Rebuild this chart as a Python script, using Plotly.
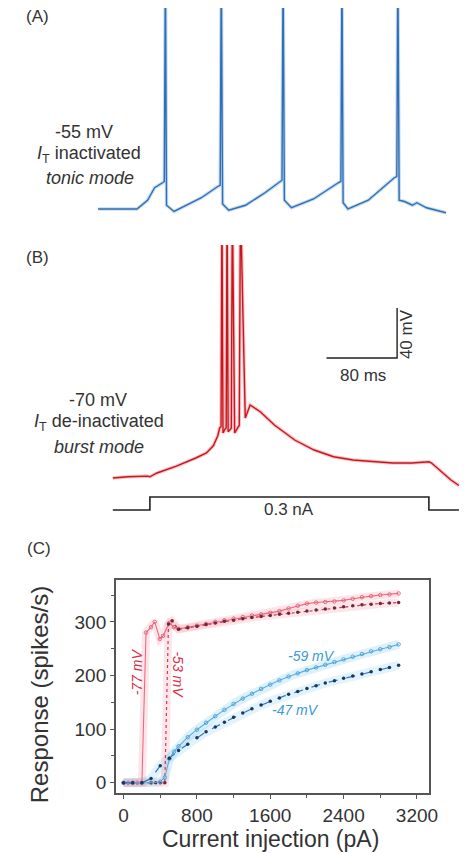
import plotly.graph_objects as go

W, H = 474, 853

# ---------------- Panel A data (tonic mode, ms / mV) ----------------
a_time = [0, 44, 56, 64, 73, 75.0, 76.2, 77.5, 86, 100, 117, 135.5, 138.3, 139.5, 141, 148, 167, 189,
          205.5, 208.3, 209.5, 211, 219, 244, 272, 275.0, 276.2, 277.5, 283, 306, 335.5, 338.3, 339.5,
          341, 347, 356, 361, 372, 383, 394]
a_volt = [-55, -55, -48, -38, -34, -33, 140, -52, -57, -52, -46, -37, -36, 140, -51, -56, -52, -42,
          -33, -32, 140, -48, -54, -47, -34, -33, 140, -50, -55, -48, -30, -29, 140,
          -48, -49, -52, -50, -54, -56, -58]

# ---------------- Panel B data (burst mode, ms / mV) ----------------
b_time = [0, 17, 39, 42, 50, 72, 94, 106, 114, 119, 121,
          122.6, 123.6, 124.8, 127, 128.4, 129.4, 130.6, 133.2, 134.2, 135.4, 138, 142.2, 143.2, 144.6,
          150, 155.5, 167, 183, 206, 228, 250, 272, 294, 317, 339, 356, 358, 361, 372, 383, 392]
b_volt = [-70, -69, -68.5, -69, -66, -60.5, -54, -50, -44, -36, -30,
          -29, 150, -34, -31, -30, 150, -33, -31, -30, 150, -34, -29, -28, 150,
          -22, -11.6, -17, -27.6, -39.6, -47.6, -53, -55.6, -57, -58, -58, -57.5, -57, -58, -65, -71.6, -76]

# current step (nA)
step_time = [0, 42, 42, 358, 358, 392]
step_amp = [0, 0, 0.3, 0.3, 0, 0]

# scale bar (80 ms, 40 mV)
bar_time = [242, 322, 322]
bar_volt = [26, 26, 66]

# ---------------- Panel C data (pA / spikes per s) ----------------
red77_x = [0, 50, 100, 150, 200, 245, 300, 340, 395, 430, 500, 550, 600, 700, 800, 900, 1000, 1100,
           1200, 1300, 1400, 1500, 1600, 1700, 1800, 1900, 2000, 2100, 2200, 2300, 2400, 2500, 2600,
           2700, 2800, 2900, 3000]
red77_y = [0, 0, 0, 0, 0, 280, 290, 300, 268, 274, 298, 290, 287, 290, 293, 296, 300, 303,
           306, 309, 312, 314, 317, 320, 325, 330, 334, 336, 337, 338, 340, 343, 346,
           348, 350, 351, 353]

red53_x = [0, 100, 200, 300, 350, 400, 450, 490, 530, 600, 700, 800, 900, 1000, 1100, 1200, 1300,
           1400, 1500, 1600, 1700, 1800, 1900, 2000, 2100, 2200, 2300, 2400, 2500, 2600, 2700, 2800,
           2900, 3000]
red53_y = [0, 0, 0, 0, 0, 0, 0, 296, 302, 286, 289, 292, 295, 298, 301, 303, 306,
           308, 310, 312, 314, 316, 318, 320, 322, 324, 326, 328, 330, 332, 333, 334,
           335, 336]

blue59_x = [0, 100, 200, 300, 400, 450, 500, 550, 600, 700, 800, 900, 1000, 1100, 1200, 1300, 1400,
            1500, 1600, 1700, 1800, 1900, 2000, 2100, 2200, 2300, 2400, 2500, 2600, 2700, 2800, 2900,
            3000]
blue59_y = [0, 0, 0, 0, 2, 10, 45, 58, 68, 85, 99, 112, 124, 136, 147, 157, 166,
            175, 183, 191, 198, 204, 210, 215, 220, 225, 230, 235, 240, 245, 249, 253,
            258]

blue47_x = [0, 100, 200, 300, 400, 500, 600, 700, 800, 900, 1000, 1100, 1200, 1300, 1400, 1500,
            1600, 1700, 1800, 1900, 2000, 2100, 2200, 2300, 2400, 2500, 2600, 2700, 2800, 2900, 3000]
blue47_y = [0, 0, 0, 8, 32, 46, 60, 72, 84, 95, 104, 113, 122, 130, 138, 145,
            152, 158, 165, 170, 176, 181, 186, 190, 195, 199, 203, 207, 211, 215, 219]

x_ticks = [0, 800, 1600, 2400, 3200]
y_ticks = [0, 100, 200, 300]

# ---------------- geometry helpers ----------------
PX_PER_MS = 0.9      # 80 ms = 72 px
PX_PER_MV = 1.25     # 40 mV = 50 px


def px(x):
    return x / W


def py(y):
    return 1 - y / H


def t_range(x0_px, t0):
    return [t0 - x0_px / PX_PER_MS, t0 + (W - x0_px) / PX_PER_MS]


def v_range(top_px, bot_px, a_px, v_a):
    return [v_a - (bot_px - a_px) / PX_PER_MV, v_a + (a_px - top_px) / PX_PER_MV]


FONT = "Liberation Sans, Arial, sans-serif"
TXT = "#333333"

fig = go.Figure()

# Panel A
fig.add_trace(go.Scatter(x=a_time, y=a_volt, mode="lines", xaxis="x", yaxis="y",
                         line=dict(color="rgba(90,150,215,0.35)", width=3.5), hoverinfo="skip"))
fig.add_trace(go.Scatter(x=a_time, y=a_volt, mode="lines", xaxis="x", yaxis="y",
                         line=dict(color="#2f6fb3", width=1.4)))

# Panel B
fig.add_trace(go.Scatter(x=b_time, y=b_volt, mode="lines", xaxis="x2", yaxis="y2",
                         line=dict(color="rgba(240,80,90,0.35)", width=3.5), hoverinfo="skip"))
fig.add_trace(go.Scatter(x=b_time, y=b_volt, mode="lines", xaxis="x2", yaxis="y2",
                         line=dict(color="#c8161e", width=1.4)))
fig.add_trace(go.Scatter(x=bar_time, y=bar_volt, mode="lines", xaxis="x2", yaxis="y2",
                         line=dict(color="#222222", width=1.4)))
fig.add_trace(go.Scatter(x=step_time, y=step_amp, mode="lines", xaxis="x2", yaxis="y3",
                         line=dict(color="#222222", width=1.6)))

# Panel C
halo = dict(mode="lines", xaxis="x4", yaxis="y4", hoverinfo="skip")
fig.add_trace(go.Scatter(x=blue59_x, y=blue59_y, line=dict(color="rgba(120,200,240,0.25)", width=9), **halo))
fig.add_trace(go.Scatter(x=blue47_x, y=blue47_y, line=dict(color="rgba(120,200,240,0.22)", width=9), **halo))
fig.add_trace(go.Scatter(x=red77_x, y=red77_y, line=dict(color="rgba(245,140,160,0.22)", width=8), **halo))
fig.add_trace(go.Scatter(x=red53_x, y=red53_y, line=dict(color="rgba(245,140,160,0.22)", width=8), **halo))

fig.add_trace(go.Scatter(x=red77_x, y=red77_y, mode="lines+markers", xaxis="x4", yaxis="y4",
                         line=dict(color="#ee6a7c", width=1.1),
                         marker=dict(symbol="circle-open", size=3.5, color="#e06078", line=dict(width=0.9))))
fig.add_trace(go.Scatter(x=red53_x, y=red53_y, mode="lines+markers", xaxis="x4", yaxis="y4",
                         line=dict(color="#c83a55", width=1.2, dash="dot"),
                         marker=dict(symbol="circle", size=3.5, color="#6a2a3a")))
fig.add_trace(go.Scatter(x=blue59_x, y=blue59_y, mode="lines+markers", xaxis="x4", yaxis="y4",
                         line=dict(color="#5aaee0", width=1.1),
                         marker=dict(symbol="circle-open", size=3.5, color="#4a9cd6", line=dict(width=0.9))))
fig.add_trace(go.Scatter(x=blue47_x, y=blue47_y, mode="lines+markers", xaxis="x4", yaxis="y4",
                         line=dict(color="#3a78b8", width=1.2, dash="dash"),
                         marker=dict(symbol="circle", size=3.5, color="#1e3560")))

hidden = dict(visible=False, showgrid=False, zeroline=False, fixedrange=True)
TICKFONT = dict(size=19, color=TXT, family=FONT)

fig.update_layout(
    width=W, height=H, autosize=False,
    margin=dict(l=0, r=0, t=0, b=0),
    paper_bgcolor="white", plot_bgcolor="rgba(0,0,0,0)",
    showlegend=False,
    font=dict(family=FONT, color=TXT),
    xaxis=dict(domain=[0, 1], range=t_range(100, 0), anchor="y", **hidden),
    yaxis=dict(domain=[py(232), py(8)], range=v_range(8, 232, 209, -55), anchor="x", **hidden),
    xaxis2=dict(domain=[0, 1], range=t_range(115, 0), anchor="y2", **hidden),
    yaxis2=dict(domain=[py(490), py(245)], range=v_range(245, 490, 478, -70), anchor="x2", **hidden),
    yaxis3=dict(domain=[py(525), py(485)], range=[-15 / 43.33, 0.3 + 12 / 43.33], anchor="x2", **hidden),
    xaxis4=dict(domain=[px(118), px(437)], range=[-85, 3328], anchor="y4",
                tickvals=x_ticks, ticktext=[str(v) for v in x_ticks],
                ticks="outside", ticklen=4, tickwidth=1, tickcolor="#555",
                minor=dict(dtick=400, tick0=0, ticks="outside", ticklen=3, tickcolor="#555"),
                showline=True, linecolor="#555", linewidth=1.5, mirror=True,
                showgrid=False, zeroline=False, tickfont=TICKFONT),
    yaxis4=dict(domain=[py(793), py(580)], range=[-19, 378], anchor="x4",
                tickvals=y_ticks, ticktext=[str(v) for v in y_ticks],
                ticks="outside", ticklen=4, tickwidth=1, tickcolor="#555",
                minor=dict(dtick=50, tick0=0, ticks="outside", ticklen=3, tickcolor="#555"),
                showline=True, linecolor="#555", linewidth=1.5, mirror=True,
                showgrid=False, zeroline=False, tickfont=TICKFONT),
)

ann = []


def note(x, y, text, size=15, color=TXT, angle=0, xanchor="center"):
    ann.append(dict(x=px(x), y=py(y), xref="paper", yref="paper", text=text, showarrow=False,
                    font=dict(size=size, color=color, family=FONT), textangle=angle,
                    xanchor=xanchor, yanchor="middle"))


note(24, 17, "(A)", size=17, xanchor="left")
note(24, 257, "(B)", size=17, xanchor="left")
note(25, 548, "(C)", size=17, xanchor="left")

note(86, 132, "-55 mV", size=18)
note(91, 155, "<i>I</i><sub>T</sub> inactivated", size=18)
note(92, 178, "<i>tonic mode</i>", size=18)

note(100, 400, "-70 mV", size=18)
note(101, 423, "<i>I</i><sub>T</sub> de-inactivated", size=18)
note(101, 447, "<i>burst mode</i>", size=18)

note(370, 375, "80 ms", size=17)
note(415, 334, "40 mV", size=17, angle=-90)
note(295, 509, "0.3 nA", size=17)

note(140, 672, "<i>-77 mV</i>", size=14, color="#d8324a", angle=-90)
note(181, 675, "<i>-53 mV</i>", size=14, color="#d8324a", angle=90)
note(318, 656, "<i>-59 mV</i>", size=14, color="#3a9ad8")
note(301, 710, "<i>-47 mV</i>", size=14, color="#3a9ad8")

note(40, 695, "Response (spikes/s)", size=24, angle=-90)
note(276, 839, "Current injection (pA)", size=23)

fig.update_layout(annotations=ann)

fig.write_html("out.html", config={"displayModeBar": False},
               post_script="document.body.style.margin='0';")
